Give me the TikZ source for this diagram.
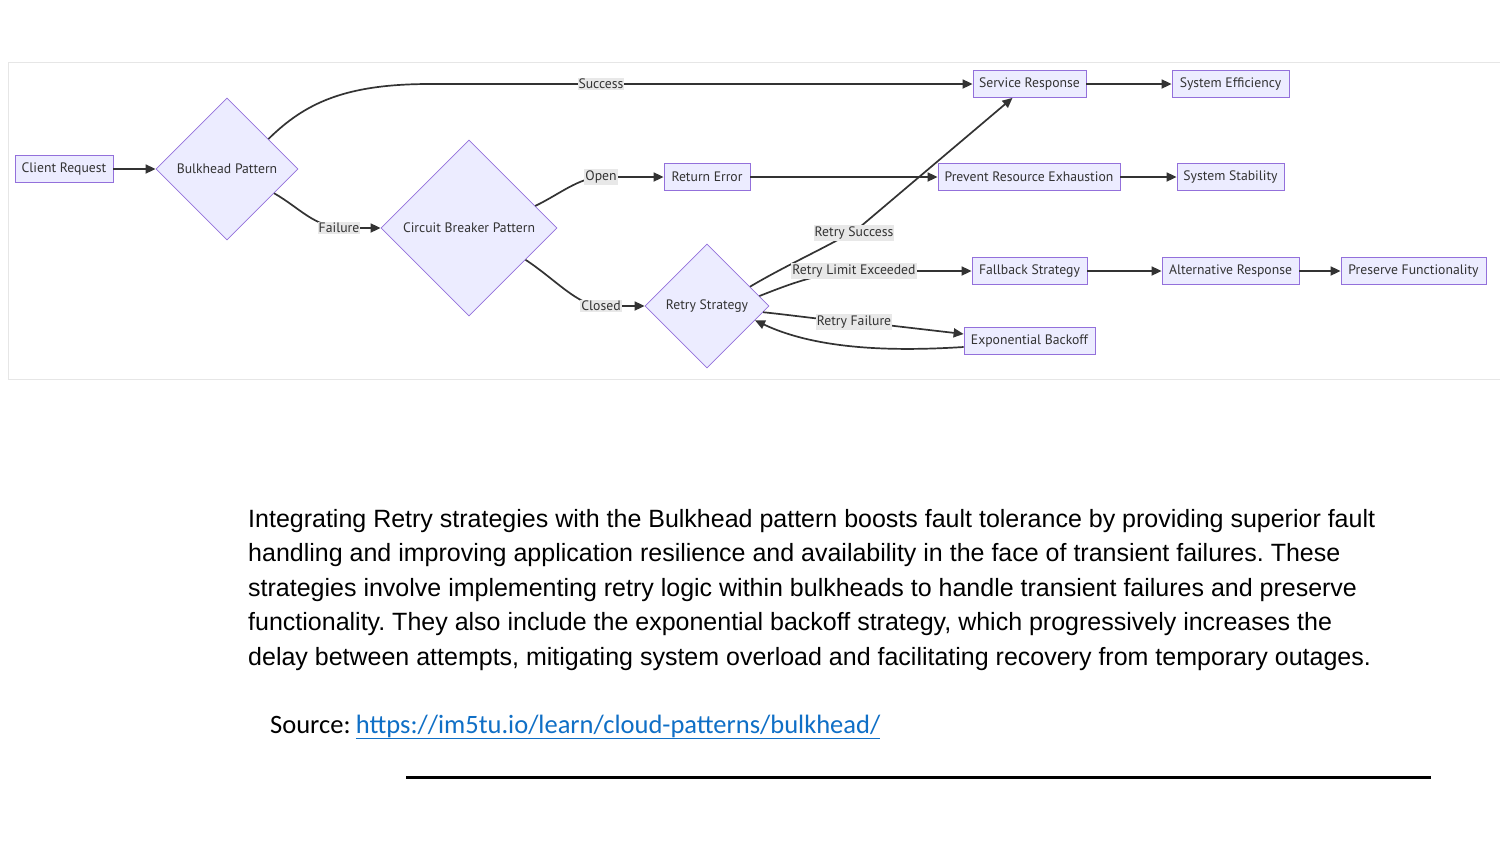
\documentclass[tikz,border=0pt]{standalone}
\usepackage{fontspec}
\setmainfont{Liberation Sans}
\newfontfamily\diafont{PT Sans}
\newfontfamily\srcfont{Carlito}
\usetikzlibrary{shapes.geometric,arrows.meta,calc}
\definecolor{nodefill}{HTML}{ECECFF}
\definecolor{nodeline}{HTML}{9370DB}
\definecolor{edgecol}{HTML}{333333}
\definecolor{lblbg}{HTML}{E8E8E8}
\definecolor{linkblue}{HTML}{0F6FC6}
\definecolor{framecol}{HTML}{E6E6E6}
\frenchspacing
\begin{document}
\begin{tikzpicture}[x=1pt,y=-1pt,
  dfont/.style={font=\diafont\fontsize{13.7}{16}\selectfont},
  box/.style={dfont, draw=nodeline, fill=nodefill, line width=0.8pt, text=edgecol, minimum height=27pt, inner xsep=5pt, inner ysep=0pt},
  dia/.style={dfont, diamond, aspect=1, draw=nodeline, fill=nodefill, line width=0.8pt, text=edgecol, inner sep=0pt},
  elabel/.style={dfont, fill=lblbg, text=edgecol, inner xsep=1pt, inner ysep=1.5pt},
  arr/.style={draw=edgecol, line width=1.7pt, -{Triangle[length=10pt,width=9pt]}},
  para/.style={anchor=base west, font=\fontsize{25}{29}\selectfont, inner sep=0pt},
]
\useasboundingbox (0,0) rectangle (1500,844);
\fill[white] (0,0) rectangle (1500,844);
\draw[framecol, line width=1pt] (8,62) rectangle (1512,379);

% nodes
\node[box, minimum width=98pt] (cr) at (64,169) {Client Request};
\node[dia, minimum width=142pt, minimum height=142pt] (bh) at (227,169) {Bulkhead Pattern};
\node[dia, minimum width=176pt, minimum height=176pt] (cb) at (469,228) {Circuit Breaker Pattern};
\node[dia, minimum width=124pt, minimum height=124pt] (rs) at (707,306) {Retry Strategy};
\node[box, minimum width=86pt] (re) at (707,177) {Return Error};
\node[box, minimum width=113pt] (sr) at (1029.5,84) {Service Response};
\node[box, minimum width=117pt] (se) at (1230.5,84) {System Efficiency};
\node[box, minimum width=182pt] (pr) at (1029,177) {Prevent Resource Exhaustion};
\node[box, minimum width=107pt] (ss) at (1230.5,177) {System Stability};
\node[box, minimum width=115pt] (fb) at (1029.5,271) {Fallback Strategy};
\node[box, minimum width=137pt] (ar) at (1230.5,271) {Alternative Response};
\node[box, minimum width=145pt] (pf) at (1413.5,271) {Preserve Functionality};
\node[box, minimum width=131pt] (eb) at (1029.5,341) {Exponential Backoff};

% edges
\draw[arr] (cr) -- (bh);
\draw[arr] ($(bh.north)!0.58!(bh.east)$) .. controls (305,103) and (345,84) .. (430,84) -- (sr.west);
\draw[arr] ($(bh.east)!0.34!(bh.south)$) .. controls (300,208) and (315,228) .. (345,228) -- (cb.west);
\draw[arr] ($(cb.north)!0.75!(cb.east)$) .. controls (560,194) and (578,178) .. (601,177) -- (re.west);
\draw[arr] ($(cb.east)!0.36!(cb.south)$) .. controls (555,279) and (578,306) .. (601,306) -- (rs.west);
\draw[arr] (re) -- (pr);
\draw[arr] ($(rs.north)!0.69!(rs.east)$) .. controls (790,263) and (830,246) .. (860,227) -- ($(sr.south)+(-17,0)$);
\draw[arr] ($(rs.north)!0.84!(rs.east)$) .. controls (790,284) and (820,272) .. (860,271) -- (fb.west);
\draw[arr] ($(rs.east)!0.1!(rs.south)$) .. controls (800,316) and (830,321) .. (860,322) -- ($(eb.west)+(0,-7)$);
\draw[arr] ($(eb.west)+(0,6)$) .. controls (900,351) and (820,351) .. ($(rs.east)!0.23!(rs.south)$);
\draw[arr] (sr) -- (se);
\draw[arr] (pr) -- (ss);
\draw[arr] (fb) -- (ar);
\draw[arr] (ar) -- (pf);

% edge labels
\node[elabel] (lsucc) at (601,84) {Success};
\node[elabel] (lfail) at (339,228) {Failure};
\node[elabel] (lopen) at (601,177) {Open};
\node[elabel] (lclosed) at (601,306) {Closed};
\node[elabel] (lrs) at (854,233) {Retry Success};
\node[elabel] (lrle) at (854,271) {Retry Limit Exceeded};
\node[elabel] (lrf) at (854,322) {Retry Failure};

% paragraph
\node[para] (p1) at (248,527) {Integrating Retry strategies with the Bulkhead pattern boosts fault tolerance by providing superior fault};
\node[para] (p2) at (248,561.5) {handling and improving application resilience and availability in the face of transient failures. These};
\node[para] (p3) at (248,596) {strategies involve implementing retry logic within bulkheads to handle transient failures and preserve};
\node[para] (p4) at (248,630.5) {functionality. They also include the exponential backoff strategy, which progressively increases the};
\node[para] (p5) at (248,665) {delay between attempts, mitigating system overload and facilitating recovery from temporary outages.};

\node[anchor=base west, inner sep=0pt, font=\srcfont\fontsize{26.5}{30}\selectfont] (src) at (270,733)
  {Source:\hspace{0.2em}\textcolor{linkblue}{\underline{https://im5tu.io/learn/cloud-patterns/bulkhead/}}};

\draw[black, line width=3pt] (406,777) -- (1431,777);
\end{tikzpicture}
\end{document}
